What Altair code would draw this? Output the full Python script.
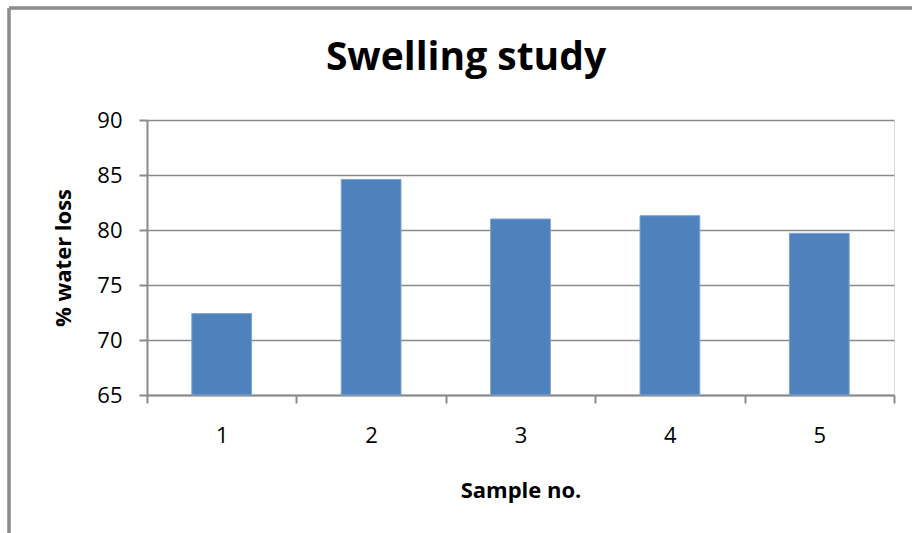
import altair as alt
import pandas as pd

# Swelling study: % water loss for each sample
samples = [1, 2, 3, 4, 5]
water_loss = [72.4, 84.6, 81.0, 81.3, 79.7]

y_ticks = [65, 70, 75, 80, 85, 90]
x_ticks = [0.5, 1, 1.5, 2, 2.5, 3, 3.5, 4, 4.5, 5, 5.5]
title_text = ["Swelling study"]

df = pd.DataFrame({"sample": samples, "loss": water_loss})

FONT = "Open Sans"
GRID = "#8a8a8a"
W, H = 747, 275
LEFT, TOP = 147, 120

x_scale = alt.Scale(domain=[0.5, 5.5], nice=False, zero=False)
y_scale = alt.Scale(domain=[65, 90], nice=False, zero=False)

bars = (
    alt.Chart(df)
    .transform_calculate(lo="datum.sample - 0.2", hi="datum.sample + 0.2")
    .mark_bar(color="#4F81BD", stroke="#7fa3d0", strokeWidth=1)
    .encode(
        x=alt.X(
            "lo:Q",
            scale=x_scale,
            axis=alt.Axis(
                values=x_ticks,
                grid=False,
                labelExpr="datum.value % 1 === 0 ? format(datum.value, 'd') : ''",
                labelOverlap=False,
                labelFont=FONT,
                labelFontSize=22,
                labelColor="#000000",
                labelPadding=22,
                labelAngle=0,
                tickSize=8,
                tickWidth=2,
                tickColor=GRID,
                tickOpacity={"condition": {"test": "datum.value % 1 === 0", "value": 0}, "value": 1},
                domainColor=GRID,
                domainWidth=2,
                title="Sample no.",
                titleFont=FONT,
                titleFontSize=22,
                titleFontWeight="bold",
                titleColor="#000000",
                titleX=W / 2,
                titleY=102,
                titleAlign="center",
                titleBaseline="alphabetic",
            ),
        ),
        x2="hi:Q",
        y=alt.Y(
            "loss:Q",
            scale=y_scale,
            axis=alt.Axis(
                values=y_ticks,
                grid=True,
                gridColor=GRID,
                gridWidth=1.5,
                labelFont=FONT,
                labelFontSize=22,
                labelColor="#000000",
                labelPadding=17,
                tickSize=8,
                tickWidth=2,
                tickColor=GRID,
                domainColor=GRID,
                domainWidth=2,
                title="% water loss",
                titleFont=FONT,
                titleFontSize=22,
                titleFontWeight="bold",
                titleColor="#000000",
                titleAngle=-90,
                titleX=-77,
                titleY=H / 2,
                titleAlign="center",
                titleBaseline="alphabetic",
            ),
        ),
        y2=alt.datum(65),
    )
)

# Chart heading, centred over the whole chart area
heading = (
    alt.Chart(pd.DataFrame({"title": title_text}))
    .mark_text(font=FONT, fontSize=39, fontWeight="bold", color="#000000",
               align="center", baseline="alphabetic")
    .encode(text="title:N", x=alt.value(466 - LEFT), y=alt.value(70 - TOP))
)

# Outer chart-area frame (left and top edges)
frame_left = alt.Chart(df).mark_rule(color="#8c8c8c", strokeWidth=2.5).encode(
    x=alt.value(9 - LEFT), y=alt.value(8 - TOP), y2=alt.value(540 - TOP)
)
frame_top = alt.Chart(df).mark_rule(color="#8c8c8c", strokeWidth=2.5).encode(
    x=alt.value(9 - LEFT), x2=alt.value(920 - LEFT), y=alt.value(8 - TOP)
)

chart = (
    alt.layer(bars, heading, frame_left, frame_top)
    .properties(
        width=W,
        height=H,
        autosize=alt.AutoSizeParams(type="none"),
        padding={"left": LEFT, "top": TOP, "right": 912 - LEFT - W, "bottom": 533 - TOP - H},
    )
    .configure_view(stroke=None)
    .configure(background="white")
)

chart.save("out.html", embed_options={"renderer": "svg", "actions": False})
